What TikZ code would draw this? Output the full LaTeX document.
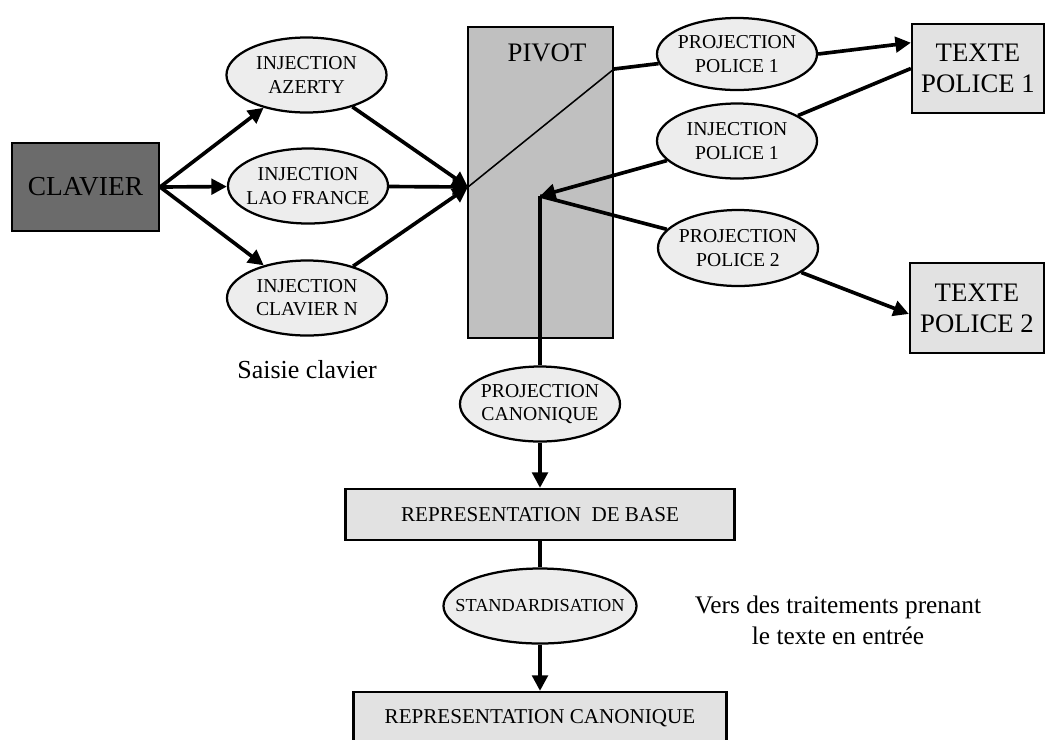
\documentclass[tikz,border=0pt]{standalone}
\usepackage{fontspec}
\setmainfont{Liberation Serif}
\usetikzlibrary{positioning}
\usetikzlibrary{shapes.geometric}
\usetikzlibrary{arrows.meta}

\definecolor{grisfonce}{HTML}{6B6B6B}
\definecolor{grispivot}{HTML}{C0C0C0}
\definecolor{grisclair}{HTML}{EDEDED}
\definecolor{grisboite}{HTML}{E2E2E2}

\begin{document}
\begin{tikzpicture}[x=0.025cm, y=-0.025cm,
    etape/.style={draw, ellipse, line width=1.6pt, fill=grisclair, align=center, inner xsep=-1.5cm, inner ysep=0pt, minimum width=4cm, minimum height=1.875cm, font=\fontsize{14}{16.5}\selectfont},
    boite/.style={draw, rectangle, line width=1.6pt, fill=grisboite, align=center, inner sep=0pt},
    fleche/.style={-{Triangle[length=11pt, width=11pt]}, line width=2.6pt},
    trait/.style={line width=2.6pt}]
            \useasboundingbox (0,0) rectangle (1046,739);
            % Nodos
            \node[boite, fill=grisfonce, minimum width=3.675cm, minimum height=2.2cm, font=\fontsize{19.5}{22}\selectfont] (clavier) at (85.5,187) {CLAVIER};
            \node[etape] (azerty) at (306.5,75) {INJECTION\\AZERTY};
            \node[etape] (lao) at (308,186) {INJECTION\\LAO FRANCE};
            \node[etape] (clavn) at (307,298) {INJECTION\\CLAVIER N};
            \node[font=\fontsize{18.5}{22}\selectfont] (saisie) at (307,370) {Saisie clavier};

            \node[boite, fill=grispivot, minimum width=3.625cm, minimum height=7.775cm] (pivot) at (540.5,182.5) {};
            \node[font=\fontsize{19}{22}\selectfont] (pivottitre) at (547,53) {PIVOT};
            \coordinate (entree) at (468,187);
            \coordinate (hub) at (540,196);
            \coordinate (sortie) at (614,69);

            \node[etape, minimum height=1.8cm] (projp1) at (737,54) {PROJECTION\\POLICE 1};
            \node[etape] (injp1) at (737,141) {INJECTION\\POLICE 1};
            \node[etape, minimum height=1.9cm] (projp2) at (738,248) {PROJECTION\\POLICE 2};
            \node[boite, minimum width=3.3cm, minimum height=2.225cm, font=\fontsize{19}{22}\selectfont] (texte1) at (978,68.5) {TEXTE\\POLICE 1};
            \node[boite, minimum width=3.35cm, minimum height=2.25cm, font=\fontsize{19}{22}\selectfont] (texte2) at (977,308) {TEXTE\\POLICE 2};

            \node[etape] (projcan) at (540,404) {PROJECTION\\CANONIQUE};
            \node[boite, minimum width=9.725cm, minimum height=1.275cm, font=\fontsize{15}{18}\selectfont] (base) at (540,514.5) {REPRESENTATION\ \ DE BASE};
            \node[etape, minimum width=4.825cm, font=\fontsize{13}{16}\selectfont] (stand) at (540,606) {STANDARDISATION};
            \node[boite, minimum width=9.325cm, minimum height=1.3cm, font=\fontsize{15}{18}\selectfont] (canon) at (540,718) {REPRESENTATION CANONIQUE};
            \node[align=center, font=\fontsize{18}{22}\selectfont] (vers) at (838,620) {Vers des traitements prenant\\le texte en entrée};

            % Aristas
            \draw[fleche] (clavier.east) -- (azerty);
            \draw[fleche] (clavier.east) -- (lao);
            \draw[fleche] (clavier.east) -- (clavn);
            \draw[fleche] (azerty) -- (entree);
            \draw[fleche] (lao) -- (entree);
            \draw[fleche] (clavn) -- (entree);
            \draw[line width=1.1pt] (entree) -- (sortie);
            \draw[trait] (sortie) -- (projp1);
            \draw[fleche] (projp1.east) -- (texte1.159);
            \draw[trait] (injp1) -- (texte1.west);
            \draw[fleche] (injp1) -- (hub);
            \draw[trait] (hub) -- (projp2);
            \draw[fleche] (projp2) -- (texte2.185);
            \draw[trait] (hub) -- (projcan);
            \draw[fleche] (projcan) -- (base);
            \draw[trait] (base) -- (stand);
            \draw[fleche] (stand) -- (canon);
          \end{tikzpicture}
\end{document}
